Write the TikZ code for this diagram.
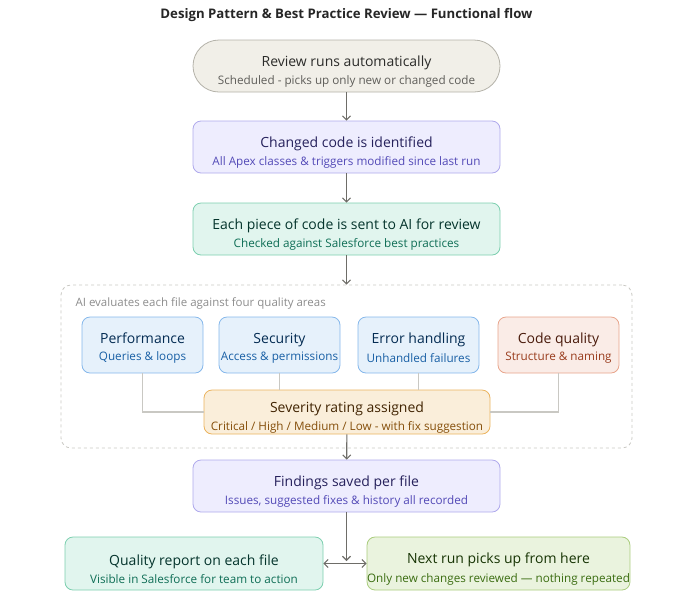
\documentclass[tikz,border=0pt]{standalone}
\usepackage{fontspec}
\setmainfont{Open Sans}
\usetikzlibrary{arrows.meta}

\definecolor{inkgray}{HTML}{6E6D68}
\definecolor{linkgray}{HTML}{C9C8C3}
\definecolor{sandfill}{HTML}{F1EFE8}
\definecolor{sandline}{HTML}{B4B2A9}
\definecolor{sandtop}{HTML}{2C2C2A}
\definecolor{sandsub}{HTML}{5F5E5A}
\definecolor{lilafill}{HTML}{EEEDFE}
\definecolor{lilaline}{HTML}{AFA9EC}
\definecolor{lilatop}{HTML}{26215C}
\definecolor{lilasub}{HTML}{534AB7}
\definecolor{mintfill}{HTML}{E1F5EE}
\definecolor{mintline}{HTML}{7CCFAF}
\definecolor{minttop}{HTML}{04342C}
\definecolor{mintsub}{HTML}{0F6E56}
\definecolor{skyfill}{HTML}{E6F1FB}
\definecolor{skyline}{HTML}{85B7EB}
\definecolor{skytop}{HTML}{042C53}
\definecolor{skysub}{HTML}{185FA5}
\definecolor{rustfill}{HTML}{FAECE7}
\definecolor{rustline}{HTML}{E8A58C}
\definecolor{rusttop}{HTML}{4A1B0C}
\definecolor{rustsub}{HTML}{993C1D}
\definecolor{ambfill}{HTML}{FAEEDA}
\definecolor{ambline}{HTML}{EBB35E}
\definecolor{ambtop}{HTML}{412402}
\definecolor{ambsub}{HTML}{854F0B}
\definecolor{limefill}{HTML}{EAF3DE}
\definecolor{limeline}{HTML}{A9CC7C}
\definecolor{limetop}{HTML}{173404}
\definecolor{limesub}{HTML}{3B6D11}

\newcommand{\twoline}[5][22pt]{{\fontsize{14}{16}\selectfont\color{#2}\rule{0pt}{#1}#4}\\[5pt]{\fontsize{11.7}{13}\selectfont\color{#3}#5}}

\begin{document}
\begin{tikzpicture}[x=1pt, y=-1pt,
    box/.style={draw, rectangle, rounded corners=8pt, line width=0.8pt, align=center, inner sep=0pt,
                minimum width=307pt, minimum height=52pt},
    area/.style={box, minimum width=121pt, minimum height=56pt},
    arr/.style={draw=inkgray, line width=1.1pt, -{Straight Barb[length=4pt,width=8pt]}},
    link/.style={draw=linkgray, line width=1.1pt}]
  \useasboundingbox (0,0) rectangle (693,598);

  \node (title) at (346.5,15) {\fontsize{13.2}{15}\selectfont\bfseries\color{black!85}Design Pattern \& Best Practice Review --- Functional flow};

  \node[box, rounded corners=26pt, fill=sandfill, draw=sandline] (start) at (346.5,66)
    {\twoline{sandtop}{sandsub}{Review runs automatically}{Scheduled - picks up only new or changed code}};
  \node[box, fill=lilafill, draw=lilaline] (changed) at (346.5,147)
    {\twoline{lilatop}{lilasub}{Changed code is identified}{All Apex classes \& triggers modified since last run}};
  \node[box, fill=mintfill, draw=mintline] (send) at (346.5,229)
    {\twoline{minttop}{mintsub}{Each piece of code is sent to AI for review}{Checked against Salesforce best practices}};

  % dashed group of the four quality areas
  \node[draw=linkgray, dashed, line width=0.8pt, rounded corners=10pt, minimum width=571pt, minimum height=163pt, inner sep=0pt]
    (panel) at (346.5,366.5) {};
  \node[anchor=west] (panelhead) at (72,303.5) {\fontsize{11.5}{13}\selectfont\color{black!45}AI evaluates each file against four quality areas};

  \node[area, fill=skyfill, draw=skyline] (perf) at (142.5,345) {\twoline[16pt]{skytop}{skysub}{Performance}{Queries \& loops}};
  \node[area, fill=skyfill, draw=skyline] (sec) at (279.5,345) {\twoline[16pt]{skytop}{skysub}{Security}{Access \& permissions}};
  \node[area, fill=skyfill, draw=skyline] (err) at (418.5,345) {\twoline[16pt]{skytop}{skysub}{Error handling}{Unhandled failures}};
  \node[area, fill=rustfill, draw=rustline] (qual) at (558.5,345) {\twoline[16pt]{rusttop}{rustsub}{Code quality}{Structure \& naming}};

  \node[box, minimum width=286pt, minimum height=44pt, fill=ambfill, draw=ambline] (sev) at (347,412)
    {\twoline{ambtop}{ambsub}{Severity rating assigned}{Critical / High / Medium / Low - with fix suggestion}};

  \draw[link] (perf.south) |- (sev.west);
  \draw[link] (sec.south) -- (sec.south |- sev.north);
  \draw[link] (err.south) -- (err.south |- sev.north);
  \draw[link] (qual.south) |- (sev.east);

  \node[box, fill=lilafill, draw=lilaline] (saved) at (346.5,486)
    {\twoline{lilatop}{lilasub}{Findings saved per file}{Issues, suggested fixes \& history all recorded}};

  \node[box, minimum width=258pt, minimum height=53pt, fill=mintfill, draw=mintline] (report) at (194,563.5)
    {\twoline{minttop}{mintsub}{Quality report on each file}{Visible in Salesforce for team to action}};
  \node[box, minimum width=259pt, minimum height=53pt, fill=limefill, draw=limeline] (next) at (498.5,563.5)
    {\twoline{limetop}{limesub}{Next run picks up from here}{Only new changes reviewed --- nothing repeated}};
  \coordinate (split) at (346.5,561);

  \draw[arr] (start) -- (changed);
  \draw[arr] (changed) -- (send);
  \draw[arr] (send) -- (send.south |- panel.north);
  \draw[arr] (sev) -- (saved);
  \draw[arr] (saved) -- (split);
  \draw[arr, {Straight Barb[length=4pt,width=8pt]}-{Straight Barb[length=4pt,width=8pt]}] (report.east) -- (next.west);
\end{tikzpicture}
\end{document}
